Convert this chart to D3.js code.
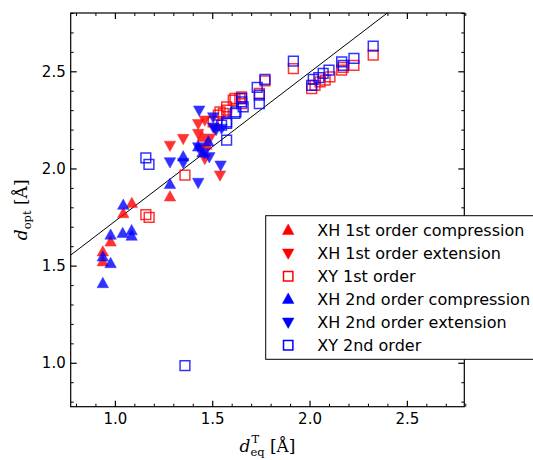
<!DOCTYPE html>
<html>
<head>
<meta charset="utf-8">
<script src="https://cdn.jsdelivr.net/npm/d3@7"></script>
<style>
  body { margin: 0; background: #fff; }
  svg { display: block; font-family: "DejaVu Sans", sans-serif; }
</style>
</head>
<body>
<div id="chart"></div>
<script>
// values: [d_eq^T, d_opt]
const xh1Compression = [[0.938,1.571],[0.938,1.52],[0.978,1.622],[1.043,1.768],[1.087,1.82],[1.283,1.854],[1.45,2.16],[1.47,2.12]];
const xh1Extension = [[1.283,2.119],[1.351,2.154],[1.428,2.231],[1.462,2.249],[1.428,2.18],[1.462,2.051],[1.54,1.966],[1.488,2.156],[1.514,2.207],[1.44,2.10]];
const xy1 = [[1.159,1.763],[1.176,1.748],[1.36,1.966],[1.505,2.24],[1.531,2.274],[1.54,2.291],[1.557,2.283],[1.574,2.30],[1.574,2.317],[1.608,2.351],[1.617,2.36],[1.642,2.36],[1.651,2.368],[1.651,2.334],[1.742,2.386],[1.771,2.451],[1.917,2.514],[2.011,2.411],[2.028,2.428],[2.054,2.445],[2.08,2.454],[2.105,2.471],[2.165,2.506],[2.173,2.52],[2.228,2.531],[2.327,2.583]];
const xh2Compression = [[0.938,1.408],[0.938,1.545],[0.978,1.511],[0.978,1.657],[1.04,1.666],[1.086,1.68],[1.086,1.652],[1.043,1.811],[1.283,1.918],[1.351,2.06],[1.48,2.137],[1.428,2.111],[1.45,2.08]];
const xh2Extension = [[1.433,2.30],[1.505,2.265],[1.283,2.034],[1.428,2.111],[1.485,2.06],[1.543,2.017],[1.428,1.928],[1.505,2.213],[1.548,2.206],[1.351,2.03],[1.46,2.08],[1.52,2.20]];
const xy2 = [[1.36,0.985],[1.159,2.055],[1.175,2.021],[1.548,2.223],[1.574,2.24],[1.574,2.146],[1.574,2.232],[1.617,2.283],[1.622,2.291],[1.651,2.343],[1.659,2.317],[1.651,2.36],[1.731,2.417],[1.742,2.334],[1.742,2.377],[1.771,2.458],[1.917,2.552],[2.011,2.428],[2.019,2.459],[2.048,2.468],[2.07,2.489],[2.1,2.506],[2.165,2.548],[2.173,2.531],[2.228,2.566],[2.327,2.629]];

const seriesNames = ["XH 1st order compression", "XH 1st order extension", "XY 1st order",
                     "XH 2nd order compression", "XH 2nd order extension", "XY 2nd order"];
const seriesColors = ["#ff0000", "#ff0000", "#ff0000", "#0000ff", "#0000ff", "#0000ff"];
const seriesShapes = ["up", "down", "square", "up", "down", "square"];
const seriesData = [xh1Compression, xh1Extension, xy1, xh2Compression, xh2Extension, xy2];

// fitted line d_opt = slope * d_eq + intercept
const fitSlope = 0.766;
const fitIntercept = 0.962;

const majorTicks = [1.0, 1.5, 2.0, 2.5];
const minorTicks = d3.range(0.8, 2.81, 0.1);

const width = 533, height = 460;
const margin = { left: 70.7, top: 13, right: 533 - 464.3, bottom: 460 - 406.7 };
const iw = width - margin.left - margin.right;
const ih = height - margin.top - margin.bottom;

const svg = d3.select("#chart").append("svg")
    .attr("width", width)
    .attr("height", height);

const x = d3.scaleLinear().domain([0.773, 2.795]).range([0, iw]);
const y = d3.scaleLinear().domain([0.774, 2.8]).range([ih, 0]);

const g = svg.append("g").attr("transform", `translate(${margin.left},${margin.top})`);

svg.append("defs").append("clipPath").attr("id", "plot-clip")
    .append("rect").attr("width", iw).attr("height", ih);

// fit line
const plot = g.append("g").attr("clip-path", "url(#plot-clip)");
const xd = x.domain();
plot.append("line")
    .attr("x1", x(xd[0])).attr("y1", y(fitSlope * xd[0] + fitIntercept))
    .attr("x2", x(xd[1])).attr("y2", y(fitSlope * xd[1] + fitIntercept))
    .attr("stroke", "#000").attr("stroke-width", 1);

function markerPath(shape, s) {
    const h = s * 0.9, w = s;
    if (shape === "up") return `M0,${-h / 2 - 1}L${w / 2},${h / 2 - 1}L${-w / 2},${h / 2 - 1}Z`;
    if (shape === "down") return `M0,${h / 2 + 1}L${w / 2},${-h / 2 + 1}L${-w / 2},${-h / 2 + 1}Z`;
    const q = s * 0.85 / 2;
    return `M${-q},${-q}H${q}V${q}H${-q}Z`;
}

function styleMarker(sel, i) {
    if (seriesShapes[i] === "square") {
        sel.attr("fill", "none").attr("stroke", seriesColors[i]).attr("stroke-width", 1.5);
    } else {
        sel.attr("fill", seriesColors[i]).attr("stroke", seriesColors[i]).attr("stroke-width", 0.5);
    }
    sel.attr("opacity", 0.8);
}

seriesData.forEach((data, i) => {
    const m = plot.append("g").selectAll("path")
        .data(data)
        .enter().append("path")
        .attr("transform", d => `translate(${x(d[0])},${y(d[1])})`)
        .attr("d", markerPath(seriesShapes[i], 11.5));
    styleMarker(m, i);
});

// axes: ticks inward on all four sides
function tickFmt(d) { return d.toFixed(1); }
const minorOnly = minorTicks.filter(t => !majorTicks.some(m => Math.abs(m - t) < 1e-6));

const axes = [
    { axis: d3.axisBottom(x), tr: `translate(0,${ih})`, labels: true, pad: 7 },
    { axis: d3.axisTop(x), tr: "translate(0,0)", labels: false, pad: 7 },
    { axis: d3.axisLeft(y), tr: "translate(0,0)", labels: true, pad: 5 },
    { axis: d3.axisRight(y), tr: `translate(${iw},0)`, labels: false, pad: 5 }
];

axes.forEach(a => {
    const major = g.append("g").attr("transform", a.tr)
        .call(a.axis.tickValues(majorTicks).tickSizeInner(-6).tickSizeOuter(0)
            .tickPadding(a.pad).tickFormat(a.labels ? tickFmt : ""));
    major.selectAll("text").attr("font-size", 15).attr("fill", "#000")
        .attr("font-family", "DejaVu Sans, sans-serif");
    major.selectAll(".tick line").attr("stroke-width", 1.2);
    major.select(".domain").remove();
    const minor = g.append("g").attr("transform", a.tr)
        .call(a.axis.tickValues(minorOnly).tickSizeInner(-3).tickSizeOuter(0).tickFormat(""));
    minor.select(".domain").remove();
});

g.append("rect").attr("width", iw).attr("height", ih)
    .attr("fill", "none").attr("stroke", "#000").attr("stroke-width", 1.2);

// legend
const legend = svg.append("g").attr("transform", "translate(265.7,215.7)");
legend.append("rect").attr("width", 280).attr("height", 143.6)
    .attr("fill", "#fff").attr("stroke", "#000").attr("stroke-width", 1);
seriesNames.forEach((name, i) => {
    const row = legend.append("g").attr("transform", `translate(0,${14.5 + i * 23})`);
    const m = row.append("path").attr("transform", "translate(22.5,0)")
        .attr("d", markerPath(seriesShapes[i], seriesShapes[i] === "square" ? 11 : 11.5));
    styleMarker(m, i);
    m.attr("opacity", 1);
    row.append("text").attr("x", 51.5).attr("y", 5.5)
        .attr("font-size", 16).attr("fill", "#000").text(name);
});

// axis labels (math style)
const serif = "DejaVu Serif, Liberation Serif, serif";
const yl = svg.append("text")
    .attr("transform", `translate(27,${margin.top + ih / 2}) rotate(-90)`)
    .attr("text-anchor", "middle").attr("font-family", serif).attr("font-size", 17);
yl.append("tspan").attr("font-style", "italic").text("d");
yl.append("tspan").attr("font-size", 11.5).attr("dy", 4).text("opt");
yl.append("tspan").attr("dy", -4).text("\u00a0[Å]");

const xl = svg.append("text")
    .attr("x", margin.left + iw / 2).attr("y", 452)
    .attr("text-anchor", "middle").attr("font-family", serif).attr("font-size", 17);
xl.append("tspan").attr("font-style", "italic").text("d");
const eq = xl.append("tspan").attr("font-size", 11.5).attr("dy", 4).text("eq");
const eqw = eq.node().getComputedTextLength();
const sup = xl.append("tspan").attr("font-size", 11.5).attr("dy", -13).attr("dx", -eqw + 1).text("T");
const tw = sup.node().getComputedTextLength();
xl.append("tspan").attr("dy", 9).attr("dx", eqw - tw - 1).text("\u00a0[Å]");
</script>
</body>
</html>
